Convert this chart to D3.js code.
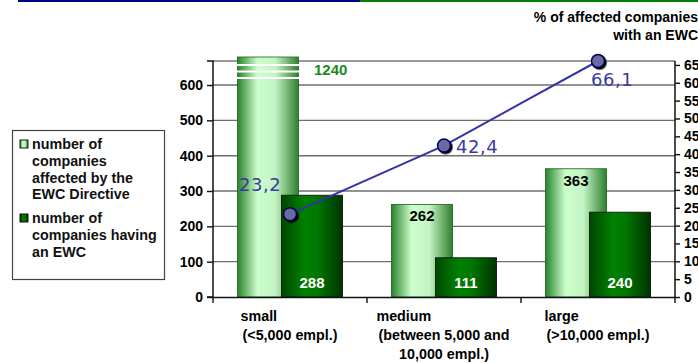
<!DOCTYPE html>
<html>
<head>
<meta charset="utf-8">
<script src="https://cdn.jsdelivr.net/npm/d3@7"></script>
<style>
  body { margin: 0; background: #fff; }
  svg text { font-family: "Liberation Sans", Arial, sans-serif; }
</style>
</head>
<body>
<svg id="chart" width="698" height="363"></svg>
<script>
// ---- data ----
const categories = ["small", "medium", "large"];
const categoryLines = [
	["small", "(<5,000 empl.)"],
	["medium", "(between 5,000 and", "10,000 empl.)"],
	["large", "(>10,000 empl.)"]
];
const affected = [1240, 262, 363];     // number of companies affected by the EWC Directive
const havingEwc = [288, 111, 240];     // number of companies having an EWC
const sharePct = [23.2, 42.4, 66.1];   // % of affected companies with an EWC
const leftTicks = [0, 100, 200, 300, 400, 500, 600];
const rightTicks = d3.range(0, 70, 5);
const legendLabels = [
	["number of", "companies", "affected by the", "EWC Directive"],
	["number of", "companies having", "an EWC"]
];

// label offsets for the percentage labels (px from the point)
const pctLabelOffset = [[-51, -23], [12, 7], [-7, 25]];

const svg = d3.select("#chart");
const top_ = 61, bottom = 297, left = 213, right = 675;

const x = d3.scaleBand().domain(categories).range([left, right]).padding(0);
const yL = d3.scaleLinear().domain([0, 668]).range([bottom, top_]);
const yR = d3.scaleLinear().domain([0, 66.1]).range([bottom, top_]);

const barW = 61, barOff = 22;
const fmtComma = d => d.toFixed(1).replace(".", ",");

// top rule
svg.append("rect").attr("x", 18).attr("y", 0).attr("width", 342).attr("height", 2).attr("fill", "#000080");
svg.append("rect").attr("x", 360).attr("y", 0).attr("width", 338).attr("height", 2).attr("fill", "#008000");

// gradients
const defs = svg.append("defs");
const gLight = defs.append("linearGradient").attr("id", "gLight");
[["0%", "#2a832a"], ["33%", "#ccffcc"], ["62%", "#c4f4c4"], ["100%", "#2e7f2e"]]
	.forEach(s => gLight.append("stop").attr("offset", s[0]).attr("stop-color", s[1]));
const gDark = defs.append("linearGradient").attr("id", "gDark");
[["0%", "#004800"], ["38%", "#008000"], ["58%", "#007800"], ["100%", "#003300"]]
	.forEach(s => gDark.append("stop").attr("offset", s[0]).attr("stop-color", s[1]));
const shadow = defs.append("filter").attr("id", "shd").attr("x", "-50%").attr("y", "-50%").attr("width", "200%").attr("height", "200%");
shadow.append("feDropShadow").attr("dx", 1.5).attr("dy", 1.5).attr("stdDeviation", 0.3).attr("flood-color", "#000").attr("flood-opacity", 1);

// gridlines
svg.append("g").selectAll("line").data(leftTicks.filter(d => d > 0)).join("line")
	.attr("x1", left).attr("x2", right)
	.attr("y1", d => yL(d)).attr("y2", d => yL(d))
	.attr("stroke", "#6e6e6e").attr("stroke-width", 1.4);
svg.append("line").attr("x1", left).attr("x2", right).attr("y1", top_).attr("y2", top_)
	.attr("stroke", "#7a7a7a").attr("stroke-width", 1.4);

// bars
const cx = c => x(c) + x.bandwidth() / 2;
const lightTop = v => Math.max(yL(v), top_ - 4);
svg.append("g").selectAll("rect").data(categories).join("rect")
	.attr("x", c => cx(c) - barOff - barW / 2)
	.attr("y", (c, i) => lightTop(affected[i]))
	.attr("width", barW)
	.attr("height", (c, i) => bottom - lightTop(affected[i]))
	.attr("fill", "url(#gLight)").attr("stroke", "#1f5f1f").attr("stroke-width", 0.8);

// break marks on the clipped bar
affected.forEach((v, i) => {
	if (v <= yL.domain()[1]) return;
	[65, 71.5, 78].forEach(yy => {
		svg.append("line")
			.attr("x1", cx(categories[i]) - barOff - barW / 2 - 1)
			.attr("x2", cx(categories[i]) - barOff + barW / 2 + 1)
			.attr("y1", yy).attr("y2", yy)
			.attr("stroke", "#fff").attr("stroke-width", 2);
	});
});

svg.append("g").selectAll("rect").data(categories).join("rect")
	.attr("x", c => cx(c) + barOff - barW / 2)
	.attr("y", (c, i) => yL(havingEwc[i]))
	.attr("width", barW)
	.attr("height", (c, i) => bottom - yL(havingEwc[i]))
	.attr("fill", "url(#gDark)").attr("stroke", "#0a1a0a").attr("stroke-width", 0.9);

// axes
const axL = svg.append("g").attr("transform", `translate(${left},0)`)
	.call(d3.axisLeft(yL).tickValues(leftTicks).tickSize(6).tickPadding(4));
const axR = svg.append("g").attr("transform", `translate(${right},0)`)
	.call(d3.axisRight(yR).tickValues(rightTicks).tickSize(5).tickPadding(4));
const axB = svg.append("g").attr("transform", `translate(0,${bottom})`)
	.call(d3.axisBottom(x).tickSize(0).tickFormat(""));
[axL, axR, axB].forEach(a => {
	a.select(".domain").attr("stroke", "#111").attr("stroke-width", 1.5);
	a.selectAll(".tick line").attr("stroke", "#111").attr("stroke-width", 1.4);
	a.selectAll(".tick text").attr("font-size", 14).attr("font-weight", "bold").attr("fill", "#000");
});
axL.select(".domain").attr("d", `M-6,${top_}H0V${bottom}H-6`);
axR.select(".domain").attr("d", `M0,${top_}V${bottom}`);
// category boundary ticks
svg.append("g").selectAll("line").data(d3.range(categories.length + 1)).join("line")
	.attr("x1", i => left + i * x.bandwidth()).attr("x2", i => left + i * x.bandwidth())
	.attr("y1", bottom).attr("y2", bottom + 6)
	.attr("stroke", "#111").attr("stroke-width", 1.4);

// value labels
svg.append("g").selectAll("text").data(categories).join("text")
	.attr("x", (c, i) => affected[i] > yL.domain()[1] ? cx(c) + 24 : cx(c) - barOff)
	.attr("y", (c, i) => affected[i] > yL.domain()[1] ? 75 : yL(affected[i]) + 17)
	.attr("text-anchor", (c, i) => affected[i] > yL.domain()[1] ? "start" : "middle")
	.attr("font-size", 15).attr("font-weight", "bold")
	.attr("fill", (c, i) => affected[i] > yL.domain()[1] ? "#1a8c1a" : "#000")
	.text((c, i) => affected[i]);
svg.append("g").selectAll("text").data(categories).join("text")
	.attr("x", c => cx(c) + barOff).attr("y", 288)
	.attr("text-anchor", "middle")
	.attr("font-size", 15).attr("font-weight", "bold").attr("fill", "#fff")
	.text((c, i) => havingEwc[i]);

// percentage line
const line = d3.line().x((d, i) => cx(categories[i])).y(d => yR(d));
svg.append("path").datum(sharePct).attr("d", line)
	.attr("fill", "none").attr("stroke", "#3333a8").attr("stroke-width", 2);
svg.append("g").selectAll("circle").data(sharePct).join("circle")
	.attr("cx", (d, i) => cx(categories[i])).attr("cy", d => yR(d)).attr("r", 6.5)
	.attr("fill", "#6a6aa2").attr("stroke", "#000055").attr("stroke-width", 1.5)
	.attr("filter", "url(#shd)");
svg.append("g").selectAll("text").data(sharePct).join("text")
	.attr("x", (d, i) => cx(categories[i]) + pctLabelOffset[i][0])
	.attr("y", (d, i) => yR(d) + pctLabelOffset[i][1])
	.attr("font-family", "'DejaVu Sans', Verdana, sans-serif")
	.style("font-family", "'DejaVu Sans', Verdana, sans-serif")
	.attr("font-size", 18).attr("letter-spacing", 0.5).attr("fill", "#3a3aa0")
	.text(fmtComma);

// category labels
categoryLines.forEach((lines, i) => {
	const g = svg.append("g");
	const t = g.selectAll("text").data(lines).join("text")
		.attr("x", cx(categories[i])).attr("y", (d, j) => 321 + j * 19)
		.attr("text-anchor", "middle")
		.attr("font-size", 14.3).attr("font-weight", "bold").attr("fill", "#000")
		.text(d => d);
	const maxW = d3.max(t.nodes(), n => n.getComputedTextLength());
	t.filter((d, j) => j === 0)
		.attr("text-anchor", "start")
		.attr("x", cx(categories[i]) - maxW / 2 - 2);
});

// right axis title
svg.append("g").selectAll("text").data(["% of affected companies", "with an EWC"]).join("text")
	.attr("x", 698).attr("y", (d, i) => 22 + i * 18)
	.attr("text-anchor", "end").attr("font-size", 14).attr("font-weight", "bold").attr("fill", "#000")
	.text(d => d);

// legend
svg.append("rect").attr("x", 12.5).attr("y", 130.5).attr("width", 152).attr("height", 149)
	.attr("fill", "#fff").attr("stroke", "#444").attr("stroke-width", 1.2);
const legFill = ["url(#gLight)", "url(#gDark)"];
const legY = [149, 223];
legendLabels.forEach((lines, k) => {
	svg.append("rect").attr("x", 20).attr("y", legY[k] - 9).attr("width", 8).attr("height", 8)
		.attr("fill", legFill[k]).attr("stroke", "#000").attr("stroke-width", 0.9);
	svg.append("g").selectAll("text").data(lines).join("text")
		.attr("x", 32).attr("y", (d, j) => legY[k] + j * 16.8)
		.attr("font-size", 14.3).attr("font-weight", "bold").attr("fill", "#111")
		.text(d => d);
});
</script>
</body>
</html>
